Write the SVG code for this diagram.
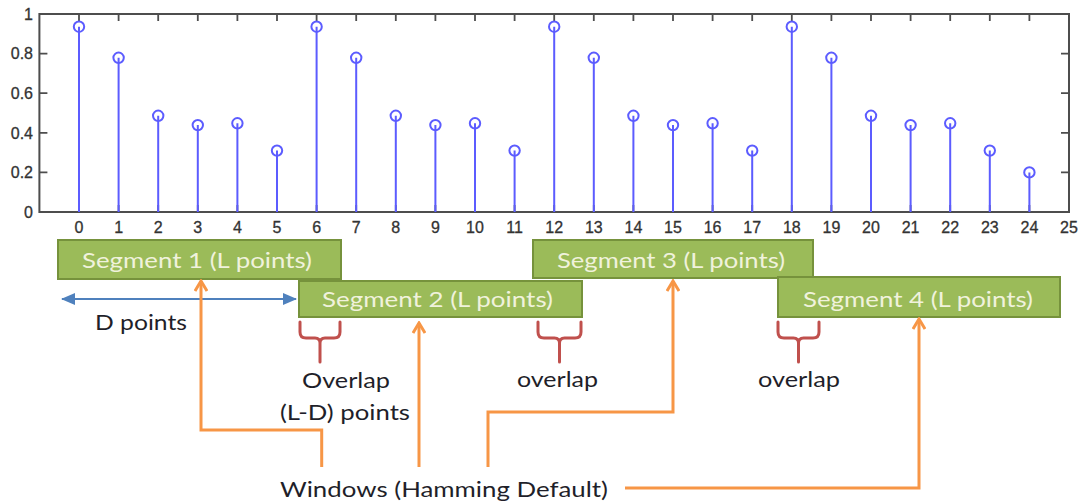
<svg xmlns="http://www.w3.org/2000/svg" width="1080" height="504" viewBox="0 0 1080 504">
<style>
.ax{fill:none;stroke:#4d4d4d;stroke-width:2}
.tk{fill:none;stroke:#4d4d4d;stroke-width:1.8}
.tl{font-family:"Liberation Sans",Arial,sans-serif;font-size:16px;fill:#333333;stroke:#333333;stroke-width:0.3}
.stem{fill:none;stroke:#5c5cff;stroke-width:2}
.mk{fill:none;stroke:#5c5cff;stroke-width:2}
.seg rect{fill:#9bbb59;stroke:#76923c;stroke-width:2}
.seg text{font-family:Lato,"Open Sans",sans-serif;font-size:21px;fill:#f0f2dc;text-anchor:middle}
.lbl{font-family:Lato,"Open Sans",sans-serif;font-size:22px;fill:#1f1f2a;text-anchor:middle}
.or{fill:none;stroke:#f79646;stroke-width:3}
.br{fill:none;stroke:#c0504d;stroke-width:3;stroke-linecap:round;stroke-linejoin:round}
</style>
<defs>
<marker id="oa" markerUnits="userSpaceOnUse" viewBox="0 0 14 14" refX="12" refY="7" markerWidth="14" markerHeight="14" orient="auto">
<path d="M2,1 L12,7 L2,13" fill="none" stroke="#f79646" stroke-width="3"/>
</marker>
<marker id="ba" markerUnits="userSpaceOnUse" viewBox="0 0 14 14" refX="13" refY="7" markerWidth="14" markerHeight="14" orient="auto-start-reverse">
<path d="M0,1 L14,7 L0,13 z" fill="#4f81bd"/>
</marker>
</defs>

<g id="plot">
<rect class="ax" x="39.4" y="14" width="1029.6" height="198"/>
<path class="tk" d="M79,14v7M118.6,14v7M158.2,14v7M197.8,14v7M237.4,14v7M277,14v7M316.6,14v7M356.2,14v7M395.8,14v7M435.4,14v7M475,14v7M514.6,14v7M554.2,14v7M593.8,14v7M633.4,14v7M673,14v7M712.6,14v7M752.2,14v7M791.8,14v7M831.4,14v7M871,14v7M910.6,14v7M950.2,14v7M989.8,14v7M1029.4,14v7
M79,212v-7M118.6,212v-7M158.2,212v-7M197.8,212v-7M237.4,212v-7M277,212v-7M316.6,212v-7M356.2,212v-7M395.8,212v-7M435.4,212v-7M475,212v-7M514.6,212v-7M554.2,212v-7M593.8,212v-7M633.4,212v-7M673,212v-7M712.6,212v-7M752.2,212v-7M791.8,212v-7M831.4,212v-7M871,212v-7M910.6,212v-7M950.2,212v-7M989.8,212v-7M1029.4,212v-7
M39.4,172.4h8M39.4,132.8h8M39.4,93.2h8M39.4,53.6h8
M1069,172.4h-8M1069,132.8h-8M1069,93.2h-8M1069,53.6h-8"/>
<g class="tl" text-anchor="end">
<text x="33" y="218">0</text>
<text x="33" y="178">0.2</text>
<text x="33" y="138.5">0.4</text>
<text x="33" y="99">0.6</text>
<text x="33" y="59">0.8</text>
<text x="33" y="19.5">1</text>
</g>
<g class="tl" text-anchor="middle">
<text x="79" y="233">0</text><text x="118.6" y="233">1</text><text x="158.2" y="233">2</text><text x="197.8" y="233">3</text><text x="237.4" y="233">4</text><text x="277" y="233">5</text><text x="316.6" y="233">6</text><text x="356.2" y="233">7</text><text x="395.8" y="233">8</text><text x="435.4" y="233">9</text><text x="475" y="233">10</text><text x="514.6" y="233">11</text><text x="554.2" y="233">12</text><text x="593.8" y="233">13</text><text x="633.4" y="233">14</text><text x="673" y="233">15</text><text x="712.6" y="233">16</text><text x="752.2" y="233">17</text><text x="791.8" y="233">18</text><text x="831.4" y="233">19</text><text x="871" y="233">20</text><text x="910.6" y="233">21</text><text x="950.2" y="233">22</text><text x="989.8" y="233">23</text><text x="1029.4" y="233">24</text><text x="1069" y="233">25</text>
</g>
<path class="stem" d="M79,212V26.7M118.6,212V57.8M158.2,212V115.8M197.8,212V125.1M237.4,212V123.3M277,212V150.6
M316.6,212V26.7M356.2,212V57.8M395.8,212V115.8M435.4,212V125.1M475,212V123.3M514.6,212V150.6
M554.2,212V26.7M593.8,212V57.8M633.4,212V115.8M673,212V125.1M712.6,212V123.3M752.2,212V150.6
M791.8,212V26.7M831.4,212V57.8M871,212V115.8M910.6,212V125.1M950.2,212V123.3M989.8,212V150.6M1029.4,212V172.4"/>
<g class="mk">
<circle cx="79" cy="26.7" r="5.2"/><circle cx="118.6" cy="57.8" r="5.2"/><circle cx="158.2" cy="115.8" r="5.2"/><circle cx="197.8" cy="125.1" r="5.2"/><circle cx="237.4" cy="123.3" r="5.2"/><circle cx="277" cy="150.6" r="5.2"/>
<circle cx="316.6" cy="26.7" r="5.2"/><circle cx="356.2" cy="57.8" r="5.2"/><circle cx="395.8" cy="115.8" r="5.2"/><circle cx="435.4" cy="125.1" r="5.2"/><circle cx="475" cy="123.3" r="5.2"/><circle cx="514.6" cy="150.6" r="5.2"/>
<circle cx="554.2" cy="26.7" r="5.2"/><circle cx="593.8" cy="57.8" r="5.2"/><circle cx="633.4" cy="115.8" r="5.2"/><circle cx="673" cy="125.1" r="5.2"/><circle cx="712.6" cy="123.3" r="5.2"/><circle cx="752.2" cy="150.6" r="5.2"/>
<circle cx="791.8" cy="26.7" r="5.2"/><circle cx="831.4" cy="57.8" r="5.2"/><circle cx="871" cy="115.8" r="5.2"/><circle cx="910.6" cy="125.1" r="5.2"/><circle cx="950.2" cy="123.3" r="5.2"/><circle cx="989.8" cy="150.6" r="5.2"/><circle cx="1029.4" cy="172.4" r="5.2"/>
</g>
</g>

<g id="segment1" class="seg"><rect x="58" y="240" width="283" height="39"/><text x="197" y="268" textLength="230" lengthAdjust="spacingAndGlyphs">Segment 1 (L points)</text></g>
<g id="segment2" class="seg"><rect x="299" y="281" width="283" height="36"/><text x="437.5" y="306.5" textLength="231" lengthAdjust="spacingAndGlyphs">Segment 2 (L points)</text></g>
<g id="segment3" class="seg"><rect x="533" y="240" width="280" height="38"/><text x="671" y="268" textLength="228" lengthAdjust="spacingAndGlyphs">Segment 3 (L points)</text></g>
<g id="segment4" class="seg"><rect x="778" y="277" width="282" height="40"/><text x="918" y="306.5" textLength="230" lengthAdjust="spacingAndGlyphs">Segment 4 (L points)</text></g>

<g id="braces">
<path class="br" d="M300,322V332Q300,338 306,338H315Q320,338 320,343V362M320,343Q320,338 325,338H334Q340,338 340,332V322"/>
<path class="br" d="M538,322V332Q538,338 544,338H554.5Q559.5,338 559.5,343V362M559.5,343Q559.5,338 564.5,338H575Q581,338 581,332V322"/>
<path class="br" d="M778,322V332Q778,338 784,338H793.5Q798.5,338 798.5,343V362M798.5,343Q798.5,338 803.5,338H813Q819,338 819,332V322"/>
</g>

<g id="labels">
<text class="lbl" x="141" y="330" textLength="92" lengthAdjust="spacingAndGlyphs">D points</text>
<text class="lbl" x="346" y="388" textLength="88" lengthAdjust="spacingAndGlyphs">Overlap</text>
<text class="lbl" x="345" y="420" textLength="130" lengthAdjust="spacingAndGlyphs">(L-D) points</text>
<text class="lbl" x="557.5" y="387" textLength="81" lengthAdjust="spacingAndGlyphs">overlap</text>
<text class="lbl" x="799" y="387" textLength="82" lengthAdjust="spacingAndGlyphs">overlap</text>
<text class="lbl" x="444" y="497" textLength="328" lengthAdjust="spacingAndGlyphs">Windows (Hamming Default)</text>
</g>

<g id="connectors">
<path d="M62,299H296" fill="none" stroke="#4f81bd" stroke-width="2" marker-start="url(#ba)" marker-end="url(#ba)"/>
<path class="or" d="M321.7,467V430H201V281" marker-end="url(#oa)"/>
<path class="or" d="M419,467V323" marker-end="url(#oa)"/>
<path class="or" d="M488,467V412H673V281" marker-end="url(#oa)"/>
<path class="or" d="M625,488H919V319" marker-end="url(#oa)"/>
</g>
</svg>
